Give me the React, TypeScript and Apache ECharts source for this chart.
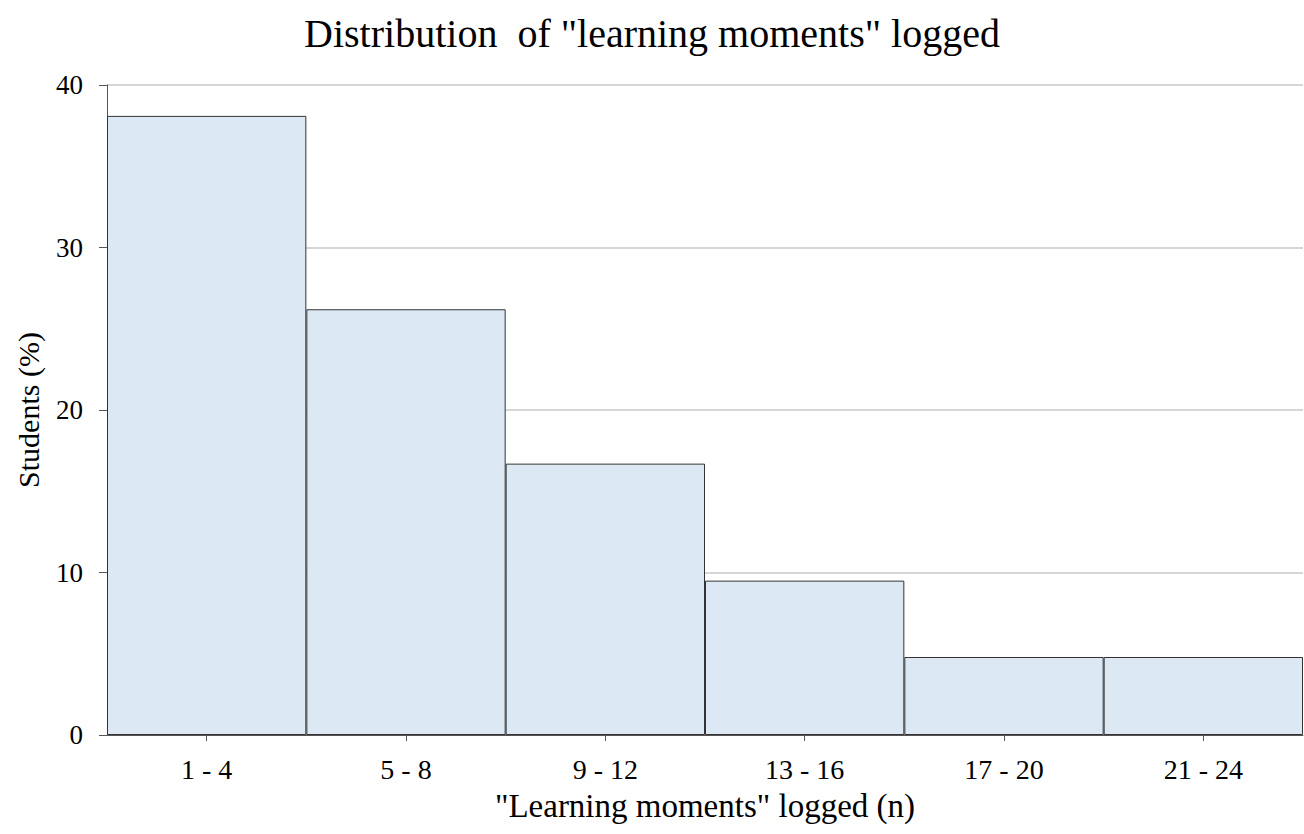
import React, { useEffect, useRef } from "react";
import * as echarts from "echarts";

const categories = ["1 - 4", "5 - 8", "9 - 12", "13 - 16", "17 - 20", "21 - 24"];
const studentsPct = [38.1, 26.2, 16.7, 9.5, 4.8, 4.8];
const yTicks = { min: 0, max: 40, interval: 10 };

const FONT = '"Liberation Serif", "Times New Roman", serif';

export default function App() {
  const ref = useRef<HTMLDivElement>(null);
  useEffect(() => {
    if (!ref.current) return;
    const chart = echarts.init(ref.current, undefined, { renderer: "svg" });
    chart.setOption({
      animation: false,
      backgroundColor: "#ffffff",
      title: {
        text: 'Distribution  of "learning moments" logged',
        left: "center",
        top: 8,
        textStyle: { fontFamily: FONT, fontSize: 40, fontWeight: "normal", color: "#000" },
      },
      grid: { left: 107, right: 1, top: 85, bottom: 99, containLabel: false },
      xAxis: {
        type: "category",
        data: categories,
        name: '"Learning moments" logged (n)',
        nameLocation: "middle",
        nameGap: 54,
        nameTextStyle: { fontFamily: FONT, fontSize: 33, color: "#000", verticalAlign: "top" },
        axisLine: { show: true, lineStyle: { color: "#555", width: 1 } },
        axisTick: { show: true, alignWithLabel: true, length: 6, lineStyle: { color: "#555" } },
        axisLabel: { fontFamily: FONT, fontSize: 28, color: "#000", margin: 20 },
        splitLine: { show: false },
      },
      yAxis: {
        type: "value",
        min: yTicks.min,
        max: yTicks.max,
        interval: yTicks.interval,
        name: "Students (%)",
        nameLocation: "middle",
        nameGap: 64,
        nameTextStyle: { fontFamily: FONT, fontSize: 30, color: "#000" },
        axisLine: { show: true, lineStyle: { color: "#555", width: 1 } },
        axisTick: { show: true, inside: false, length: 8, lineStyle: { color: "#555" } },
        axisLabel: { fontFamily: FONT, fontSize: 27, color: "#000", margin: 24 },
        splitLine: { show: true, lineStyle: { color: "#c8c8c8", width: 1.5 } },
      },
      series: [
        {
          type: "bar",
          data: studentsPct,
          barCategoryGap: "0%",
          itemStyle: { color: "#dde8f5", borderColor: "#333", borderWidth: 1 },
        },
      ],
    });
    return () => chart.dispose();
  }, []);
  return (
    <div
      ref={ref}
      style={{ position: "fixed", left: 0, top: 0, width: 1304, height: 834 }}
    />
  );
}
